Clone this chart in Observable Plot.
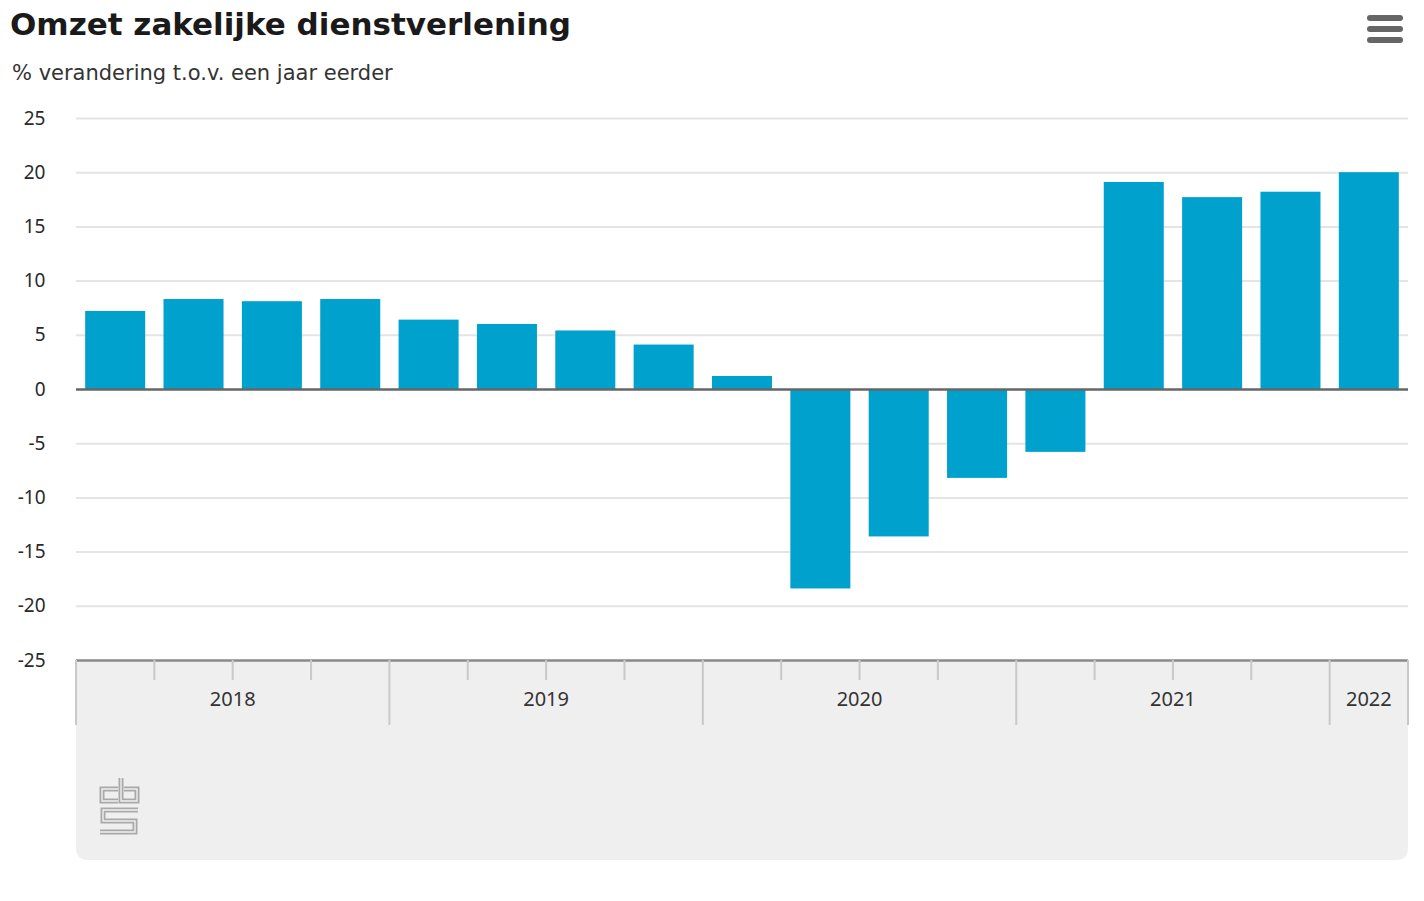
<!DOCTYPE html>
<html>
<head>
<meta charset="utf-8">
<script src="https://cdn.jsdelivr.net/npm/d3@7"></script>
<script src="https://cdn.jsdelivr.net/npm/@observablehq/plot@0.6"></script>
<style>
  body { margin: 0; background: #fff; font-family: "Noto Sans", sans-serif; }
  #header { position: relative; width: 1424px; height: 95px; }
  #title { position: absolute; left: 10px; top: 6px; font-family: "DejaVu Sans", sans-serif; font-size: 31px; font-weight: 700; color: #1a1a1a; }
  #subtitle { position: absolute; left: 12px; top: 61px; font-family: "DejaVu Sans", sans-serif; font-size: 21px; color: #333; letter-spacing: 0px; }
  #menu { position: absolute; left: 1367px; top: 15px; width: 36px; }
  #menu div { height: 6px; background: #666; border-radius: 3px; margin-bottom: 5px; }
  #chart svg { display: block; }
</style>
</head>
<body>
<div id="header">
  <div id="title">Omzet zakelijke dienstverlening</div>
  <div id="subtitle">% verandering t.o.v. een jaar eerder</div>
  <div id="menu"><div></div><div></div><div></div></div>
</div>
<div id="chart"></div>
<script>
// ---- data ----
const quarters = ["2018-K1","2018-K2","2018-K3","2018-K4",
                  "2019-K1","2019-K2","2019-K3","2019-K4",
                  "2020-K1","2020-K2","2020-K3","2020-K4",
                  "2021-K1","2021-K2","2021-K3","2021-K4",
                  "2022-K1"];
const values = [7.2, 8.3, 8.1, 8.3,
                6.4, 6.0, 5.4, 4.1,
                1.2, -18.4, -13.6, -8.2,
                -5.8, 19.1, 17.7, 18.2,
                20.0];
const years = ["2018", "2019", "2020", "2021", "2022"];
const yTicks = [-25, -20, -15, -10, -5, 0, 5, 10, 15, 20, 25];
const gridTicks = [-20, -15, -10, -5, 5, 10, 15, 20, 25];

const data = quarters.map((q, i) => ({q, v: values[i], year: q.slice(0, 4)}));

// gray panel below the plot with logo
function panel(index, scales, vals, dim) {
  const g = d3.create("svg:g");
  const x0 = dim.marginLeft, x1 = dim.width - dim.marginRight;
  const yTop = scales.y(-25);
  const yBot = yTop + 200;
  const r = 12;
  g.append("path")
    .attr("d", `M${x0},${yTop}H${x1}V${yBot - r}Q${x1},${yBot} ${x1 - r},${yBot}H${x0 + r}Q${x0},${yBot} ${x0},${yBot - r}Z`)
    .attr("fill", "#efefef");
  const logo = g.append("g").attr("transform", `translate(${x0 + 24},${yTop + 116})`);
  const paths = ["M18,13 H2 V25 H18", "M21,2 V25 H37 V13 H24", "M38,34 H3 V45 H35 V56 H0"];
  for (const d of paths) {
    logo.append("path").attr("d", d).attr("fill", "none").attr("stroke", "#a9a9a9").attr("stroke-width", 5);
    logo.append("path").attr("d", d).attr("fill", "none").attr("stroke", "#efefef").attr("stroke-width", 1.4);
  }
  return g.node();
}

// category axis: quarter ticks, year separators, year labels
function xAxis(index, scales, vals, dim) {
  const x = scales.x;
  const bw = x.bandwidth();
  const step = x.step();
  const gap = (step - bw) / 2;
  const y0 = scales.y(-25);
  const g = d3.create("svg:g");
  quarters.forEach((q) => {
    const bx = x(q) - gap;
    const isYear = q.endsWith("K1");
    g.append("line")
      .attr("x1", bx).attr("x2", bx)
      .attr("y1", y0).attr("y2", y0 + (isYear ? 65 : 20))
      .attr("stroke", "#c9c9c9").attr("stroke-width", 2);
  });
  const last = quarters[quarters.length - 1];
  const rx = x(last) + bw + gap;
  g.append("line").attr("x1", rx).attr("x2", rx).attr("y1", y0).attr("y2", y0 + 65)
    .attr("stroke", "#c9c9c9").attr("stroke-width", 2);
  years.forEach((yr) => {
    const qs = quarters.filter(q => q.startsWith(yr));
    const cx = d3.mean(qs, q => x(q) + bw / 2);
    g.append("text")
      .attr("x", cx).attr("y", y0 + 41)
      .attr("text-anchor", "middle").attr("dominant-baseline", "middle")
      .attr("font-size", 20).attr("fill", "#333")
      .attr("font-family", "Noto Sans, sans-serif")
      .text(yr);
  });
  return g.node();
}

const chart = Plot.plot({
  width: 1424,
  height: 800,
  marginTop: 23,
  marginBottom: 235,
  marginLeft: 76,
  marginRight: 16,
  style: {fontFamily: "Noto Sans, sans-serif", fontSize: "18px", color: "#333", background: "transparent", overflow: "visible"},
  x: {type: "band", domain: quarters, paddingInner: 0.234, paddingOuter: 0.117, round: false, axis: null},
  y: {domain: [-25, 25], axis: null, label: null},
  marks: [
    panel,
    Plot.gridY(gridTicks, {stroke: "#e4e4e4", strokeOpacity: 1, strokeWidth: 2}),
    Plot.axisY(yTicks, {tickSize: 0, tickPadding: 31, tickFormat: d => String(d), fontSize: 19, fill: "#2a2a2a", label: null}),
    Plot.barY(data, {x: "q", y: "v", fill: "#00a1cd"}),
    Plot.ruleY([0], {stroke: "#666", strokeWidth: 2.5}),
    Plot.ruleY([-25], {stroke: "#8a8a8a", strokeWidth: 2.5}),
    xAxis
  ]
});
document.getElementById("chart").appendChild(chart);
</script>
</body>
</html>
